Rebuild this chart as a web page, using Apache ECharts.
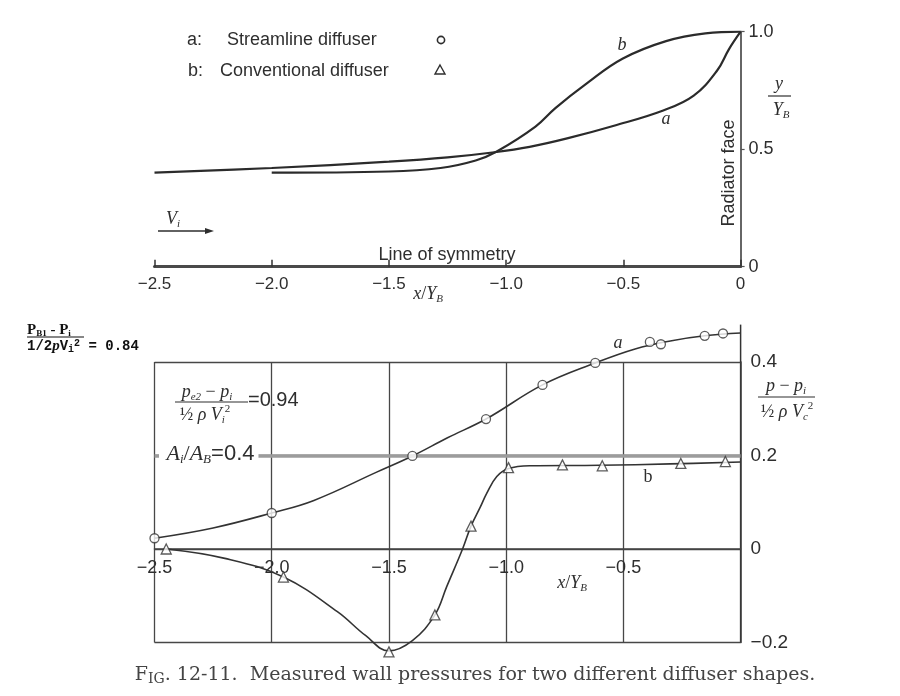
<!DOCTYPE html>
<html><head><meta charset="utf-8">
<script src="https://cdn.jsdelivr.net/npm/echarts@6/dist/echarts.min.js"></script>
<style>html,body{margin:0;padding:0;background:#fff}#c{width:900px;height:696px}</style>
</head><body><div id="c"></div>
<script>
// ---------- DATA ----------
// Top panel: wall shapes, [x/Y_B, y/Y_B]
const shapeA = [[-2.5,0.40],[-2.0,0.42],[-1.5,0.447],[-1.25,0.465],[-1.05,0.487],[-0.9,0.51],[-0.74,0.546],[-0.54,0.60],[-0.33,0.665],[-0.2,0.728],[-0.1,0.835],[-0.05,0.925],[0,1.0]];
const shapeB = [[-2.0,0.40],[-1.5,0.405],[-1.28,0.42],[-1.13,0.452],[-1.04,0.49],[-0.875,0.596],[-0.79,0.675],[-0.656,0.78],[-0.504,0.885],[-0.318,0.96],[-0.15,0.993],[0,1.0]];
// Bottom panel: wall pressure coefficient, faired curves
const presACurve = [[-2.5,0.023],[-2.25,0.045],[-2.0,0.077],[-1.82,0.104],[-1.55,0.165],[-1.4,0.199],[-1.25,0.238],[-1.086,0.278],[-0.845,0.351],[-0.62,0.398],[-0.45,0.428],[-0.3,0.445],[-0.153,0.456],[0,0.462]];
const presBCurve = [[-2.45,0.0],[-2.2,-0.02],[-1.95,-0.06],[-1.72,-0.134],[-1.6,-0.185],[-1.5,-0.218],[-1.40,-0.196],[-1.304,-0.141],[-1.254,-0.081],[-1.186,0.0],[-1.15,0.049],[-1.11,0.09],[-1.083,0.119],[-1.04,0.155],[-0.99,0.172],[-0.9,0.178],[-0.6,0.179],[-0.3,0.182],[0,0.186]];
// Bottom panel: measured points
const presAPts = [[-2.5,0.023],[-2.0,0.077],[-1.4,0.199],[-1.086,0.278],[-0.845,0.351],[-0.62,0.398],[-0.387,0.443],[-0.34,0.438],[-0.153,0.456],[-0.075,0.461]];
const presBPts = [[-2.45,0.0],[-1.95,-0.06],[-1.5,-0.22],[-1.304,-0.141],[-1.15,0.049],[-0.99,0.174],[-0.76,0.18],[-0.59,0.178],[-0.255,0.183],[-0.065,0.187]];
// Axis extension of the right-hand pressure axis above the grid
const rightAxisExt = [[0,0.4],[0,0.48]];
// Tick labels
const xTicks = [-2.5,-2.0,-1.5,-1.0,-0.5,0];
const xTickTextTop = ['\u22122.5','\u22122.0','\u22121.5','\u22121.0','\u22120.5','0'];
const xTickTextBot = ['\u22122.5','\u22122.0','\u22121.5','\u22121.0','\u22120.5',''];
const yTopTicks = [0,0.5,1.0];
const yTopText = ['0','0.5','1.0'];
const yBotTicks = [-0.2,0,0.2,0.4];
const yBotText = ['\u22120.2','0','0.2','0.4'];

// ---------- STYLE ----------
const SANS = '"Liberation Sans", Arial, sans-serif';
const SERIF = '"Liberation Serif", "Times New Roman", serif';
const INK = '#2e2e2e';
function pick(ticks, texts){ return v => { const i = ticks.findIndex(t => Math.abs(t - v) < 1e-6); return i < 0 ? '' : texts[i]; }; }

const R = {
  i:   {fontFamily: SERIF, fontStyle: 'italic', fontSize: 18, lineHeight: 22, fill: INK},
  n:   {fontFamily: SERIF, fontSize: 18, lineHeight: 22, fill: INK},
  ns:  {fontFamily: SANS, fontSize: 20, lineHeight: 22, fill: INK},
  iA:  {fontFamily: SERIF, fontStyle: 'italic', fontSize: 22, lineHeight: 24, fill: INK},
  nA:  {fontFamily: SERIF, fontSize: 22, lineHeight: 24, fill: INK},
  nsA: {fontFamily: SANS, fontSize: 22, lineHeight: 24, fill: INK},
  sA:  {fontFamily: SERIF, fontStyle: 'italic', fontSize: 13, lineHeight: 13, verticalAlign: 'bottom', fill: INK},
  s:   {fontFamily: SERIF, fontStyle: 'italic', fontSize: 11, lineHeight: 12, verticalAlign: 'bottom', fill: INK},
  sup: {fontFamily: SERIF, fontSize: 11, lineHeight: 12, verticalAlign: 'top', fill: INK},
  b:   {fontFamily: SERIF, fontWeight: 'bold', fontSize: 15, lineHeight: 16, fill: '#111'},
  bs:  {fontFamily: SERIF, fontWeight: 'bold', fontSize: 9, lineHeight: 10, verticalAlign: 'bottom', fill: '#111'},
  m:   {fontFamily: '"Liberation Mono", monospace', fontWeight: 'bold', fontSize: 14, lineHeight: 16, fill: '#111'},
  mi:  {fontFamily: SERIF, fontStyle: 'italic', fontWeight: 'bold', fontSize: 15, lineHeight: 16, fill: '#111'},
  ms:  {fontFamily: '"Liberation Mono", monospace', fontWeight: 'bold', fontSize: 10, lineHeight: 10, verticalAlign: 'bottom', fill: '#111'},
  msup:{fontFamily: '"Liberation Mono", monospace', fontWeight: 'bold', fontSize: 10, lineHeight: 10, verticalAlign: 'top', fill: '#111'},
  c1:  {fontFamily: '"DejaVu Serif", serif', fontSize: 19, lineHeight: 22, fill: '#444'},
  c2:  {fontFamily: '"DejaVu Serif", serif', fontSize: 14, lineHeight: 22, verticalAlign: 'bottom', fill: '#444'}
};

function T(x, y, text, extra){
  return {type: 'text', x: x, y: y, z: 100, style: Object.assign({text: text, fill: INK, rich: R, font: '18px ' + SANS, align: 'left', verticalAlign: 'middle'}, extra || {})};
}
function L(x1, y1, x2, y2, w, c){
  return {type: 'line', z: 100, shape: {x1: x1, y1: y1, x2: x2, y2: y2}, style: {stroke: c || INK, lineWidth: w || 1.2}};
}

const graphics = [
  // legend (top)
  T(187, 40, 'a:'), T(227, 40, 'Streamline diffuser'),
  {type: 'circle', z: 100, shape: {cx: 441, cy: 40, r: 3.6}, style: {fill: '#fff', stroke: INK, lineWidth: 1.6}},
  T(188, 71, 'b:'), T(220, 71, 'Conventional diffuser'),
  {type: 'polygon', z: 100, shape: {points: [[440, 65], [445, 74], [435, 74]]}, style: {fill: '#fff', stroke: INK, lineWidth: 1.4}},
  // curve labels top
  T(622, 45, '{i|b}', {align: 'center'}),
  T(666, 119, '{i|a}', {align: 'center'}),
  // Radiator face
  {type: 'text', x: 729, y: 173, rotation: Math.PI / 2, z: 100, style: {text: 'Radiator face', font: '18px ' + SANS, fill: INK, align: 'center', verticalAlign: 'middle'}},
  // y / Y_B
  T(779, 84, '{i|y}', {align: 'center'}),
  L(768, 96, 791, 96, 1.2),
  T(781, 110, '{i|Y}{s|B}', {align: 'center'}),
  // V_i arrow
  T(166, 219, '{i|V}{s|i}'),
  L(158, 231, 207, 231, 1.3),
  {type: 'polygon', z: 100, shape: {points: [[214, 231], [205, 228], [205, 234]]}, style: {fill: INK}},
  // line of symmetry
  T(447, 255, 'Line of symmetry', {align: 'center'}),
  // x / Y_B (top)
  T(428, 294, '{i|x}{n|/}{i|Y}{s|B}', {align: 'center'}),

  // bottom-panel annotations
  T(207, 392, '{i|p}{s|e2}{n| \u2212 }{i|p}{s|i}', {align: 'center'}),
  L(175, 402, 248, 402, 1.2),
  T(205, 415, '{n|\u00bd }{i|\u03c1 V}{s|i}{sup|2}', {align: 'center'}),
  T(248, 400, '{ns|=0.94}'),
  T(159, 454, '{iA| A}{sA|i}{nA|/}{iA|A}{sA|B}{nsA|=0.4}', {backgroundColor: '#fff', padding: [0, 4, 0, 2]}),
  T(618, 343, '{i|a}', {align: 'center'}),
  T(648, 477, '{n|b}', {align: 'center'}),
  T(786, 386, '{i|p}{n| \u2212 }{i|p}{s|i}', {align: 'center'}),
  L(758, 397, 815, 397, 1.2),
  T(787, 412, '{n|\u00bd }{i|\u03c1 V}{s|c}{sup|2}', {align: 'center'}),
  T(572, 583, '{i|x}{n|/}{i|Y}{s|B}', {align: 'center'}),

  // overlay formula (upper-left of bottom panel)
  T(27, 330, '{b|P}{bs|B1}{b| - P}{bs|i}'),
  L(27, 337, 84, 337, 1.2, '#111'),
  T(27, 346, '{m|1/2}{mi|p}{m|V}{ms|i}{msup|2}{m| = 0.84}'),

  // caption
  T(475, 675, '{c1|F}{c2|IG}{c1|. 12-11.  Measured wall pressures for two different diffuser shapes.}', {align: 'center'})
];

const chart = echarts.init(document.getElementById('c'));
chart.setOption({
  animation: false,
  backgroundColor: '#fff',
  grid: [
    {left: 154.5, right: 159.4, top: 31.7, height: 235, outerBoundsMode: 'none', containLabel: false},
    {left: 154.5, right: 159.4, top: 362, height: 280.5, outerBoundsMode: 'none', containLabel: false}
  ],
  xAxis: [
    {gridIndex: 0, type: 'value', min: -2.5, max: 0, interval: 0.5,
     axisLine: {show: true, onZero: false, lineStyle: {color: '#4a4a4a', width: 3}},
     axisTick: {show: true, inside: true, length: 7, lineStyle: {color: '#333', width: 1.5}},
     axisLabel: {show: true, margin: 9, fontSize: 17, fontFamily: SANS, color: INK, formatter: pick(xTicks, xTickTextTop)},
     splitLine: {show: false}},
    {gridIndex: 1, type: 'value', min: -2.5, max: 0, interval: 0.5, offset: -93.5,
     axisLine: {show: true, onZero: false, lineStyle: {color: '#444', width: 1.6}},
     axisTick: {show: false},
     axisLabel: {show: true, margin: 10, fontSize: 18, fontFamily: SANS, color: INK, formatter: pick(xTicks, xTickTextBot)},
     splitLine: {show: true, lineStyle: {color: '#474747', width: 1.3}}}
  ],
  yAxis: [
    {gridIndex: 0, type: 'value', position: 'right', min: 0, max: 1, interval: 0.5,
     axisLine: {show: true, lineStyle: {color: '#666', width: 2}},
     axisTick: {show: true, length: 4, lineStyle: {color: '#555', width: 1.2}},
     axisLabel: {show: true, margin: 8, fontSize: 18, fontFamily: SANS, color: INK, formatter: pick(yTopTicks, yTopText)},
     splitLine: {show: false}},
    {gridIndex: 1, type: 'value', position: 'right', min: -0.2, max: 0.4, interval: 0.2,
     axisLine: {show: true, lineStyle: {color: '#333', width: 1.5}},
     axisTick: {show: false},
     axisLabel: {show: true, margin: 10, fontSize: 19, fontFamily: SANS, color: INK, formatter: pick(yBotTicks, yBotText)},
     splitLine: {show: true, lineStyle: {color: '#474747', width: 1.3}}}
  ],
  graphic: graphics,
  series: [
    {type: 'line', name: 'shape a', xAxisIndex: 0, yAxisIndex: 0, data: shapeA, smooth: 0.4, symbol: 'none',
     lineStyle: {color: '#2b2b2b', width: 2.2}},
    {type: 'line', name: 'shape b', xAxisIndex: 0, yAxisIndex: 0, data: shapeB, smooth: 0.4, symbol: 'none',
     lineStyle: {color: '#2b2b2b', width: 2.2}},
    {type: 'line', name: 'curve a', xAxisIndex: 1, yAxisIndex: 1, data: presACurve, smooth: 0.4, symbol: 'none', clip: false,
     lineStyle: {color: '#333', width: 1.6},
     markLine: {silent: true, symbol: 'none', label: {show: false}, lineStyle: {color: '#9c9c9c', width: 3.5, type: 'solid'}, data: [{yAxis: 0.2}]}},
    {type: 'line', name: 'curve b', xAxisIndex: 1, yAxisIndex: 1, data: presBCurve, smooth: 0.4, symbol: 'none', clip: false,
     lineStyle: {color: '#333', width: 1.6}},
    {type: 'line', name: 'axis ext', xAxisIndex: 1, yAxisIndex: 1, data: rightAxisExt, symbol: 'none', clip: false, silent: true,
     lineStyle: {color: '#333', width: 1.5}},
    {type: 'scatter', name: 'a', xAxisIndex: 1, yAxisIndex: 1, data: presAPts, symbol: 'circle', symbolSize: 9, clip: false, z: 5,
     itemStyle: {color: '#fff', borderColor: '#333', borderWidth: 1.3}},
    {type: 'scatter', name: 'b', xAxisIndex: 1, yAxisIndex: 1, data: presBPts, symbol: 'triangle', symbolSize: 10, clip: false, z: 5,
     itemStyle: {color: '#fff', borderColor: '#333', borderWidth: 1.3}}
  ]
});
</script>
</body></html>
